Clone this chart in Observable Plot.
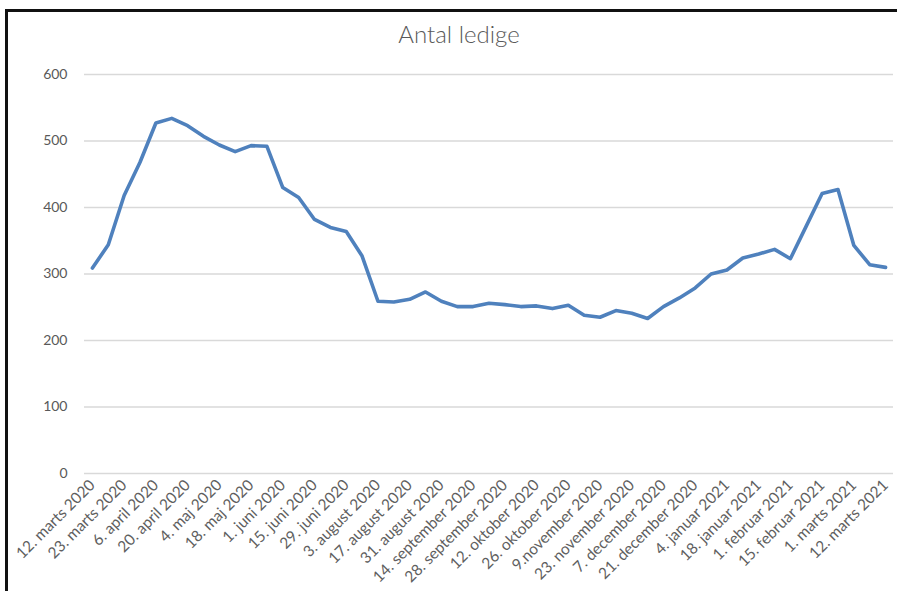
<!DOCTYPE html>
<html><head><meta charset="utf-8">
<script src="https://cdn.jsdelivr.net/npm/d3@7"></script>
<script src="https://cdn.jsdelivr.net/npm/@observablehq/plot@0.6"></script>
<style>
html,body{margin:0;padding:0;background:#fff;}
#wrap{position:relative;width:897px;height:591px;overflow:hidden;background:#fff;}
#wrap svg{position:absolute;left:0;top:0;}
#frame{position:absolute;left:5px;top:9px;width:900px;height:600px;border-top:3px solid #111;border-left:3px solid #111;pointer-events:none;}
</style></head><body><div id="wrap"></div>
<script>
const title = "Antal ledige";
const tickLabels = [
  "12. marts 2020", "23. marts 2020", "6. april 2020", "20. april 2020", "4. maj 2020",
  "18. maj 2020", "1. juni 2020", "15. juni 2020", "29. juni 2020", "3. august 2020",
  "17. august 2020", "31. august 2020", "14. september 2020", "28. september 2020",
  "12. oktober 2020", "26. oktober 2020", "9.november 2020", "23. november 2020",
  "7. december 2020", "21. december 2020", "4. januar 2021", "18. januar 2021",
  "1. februar 2021", "15. februar 2021", "1. marts 2021", "12. marts 2021"
];
const values = [
  309, 344, 418, 468, 527, 534, 523, 507, 494, 484,
  493, 492, 430, 415, 382, 370, 364, 327, 259, 258,
  262, 273, 259, 251, 251, 256, 254, 251, 252, 248,
  253, 238, 235, 245, 241, 233, 251, 264, 279, 300,
  306, 324, 330, 337, 323, 372, 421, 427, 343, 314,
  310
];
const yTicks = [0, 100, 200, 300, 400, 500, 600];

const data = values.map((v, i) => ({i, v}));

const chart = Plot.plot({
  width: 897, height: 591,
  marginTop: 74, marginBottom: 118, marginLeft: 84, marginRight: 4,
  style: {fontFamily: "Lato, 'Open Sans', sans-serif", fontSize: "14px", color: "#595959", background: "transparent", overflow: "visible"},
  x: {type: "point", domain: d3.range(values.length), padding: 0.5, label: null},
  y: {domain: [0, 600], label: null},
  marks: [
    Plot.gridY(yTicks, {stroke: "#d9d9d9", strokeOpacity: 1, strokeWidth: 1.3}),
    Plot.axisY(yTicks, {tickSize: 0, tickPadding: 17, fill: "#595959", fontSize: 14, label: null}),
    Plot.axisX(d3.range(0, values.length, 2), {
      tickSize: 0, tickPadding: 9, tickRotate: -45, textAnchor: "end", label: null,
      tickFormat: i => tickLabels[i / 2], fill: "#5f5f5f", fontSize: 15.5
    }),
    Plot.line(data, {x: "i", y: "v", stroke: "#4f81bd", strokeWidth: 3.6, strokeLinejoin: "round", strokeLinecap: "round"}),
    Plot.text([title], {frameAnchor: "top", lineAnchor: "middle", dy: -39, dx: -30, fontSize: 24, fill: "#595959", fontWeight: 300})
  ]
});
const wrap = document.getElementById("wrap");
wrap.appendChild(chart);
const frame = document.createElement("div");
frame.id = "frame";
wrap.appendChild(frame);
</script>
</body></html>
